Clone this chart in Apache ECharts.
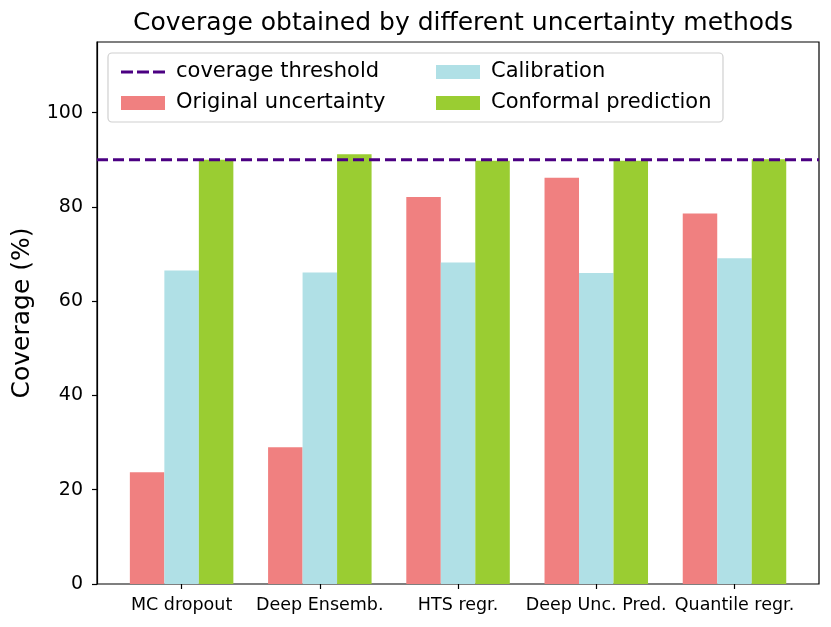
<!DOCTYPE html>
<html>
<head>
<meta charset="utf-8">
<script src="https://cdn.jsdelivr.net/npm/echarts@6/dist/echarts.min.js"></script>
<style>
  html, body { margin: 0; padding: 0; background: #fff; }
  #chart { width: 831px; height: 627px; }
</style>
</head>
<body>
<div id="chart"></div>
<script>
  // values
  let methods = ['MC dropout', 'Deep Ensemb.', 'HTS regr.', 'Deep Unc. Pred.', 'Quantile regr.']
  let original = [23.7, 29.0, 82.1, 86.2, 78.6]
  let calibration = [66.5, 66.1, 68.2, 66.0, 69.1]
  let conformal = [90.0, 91.2, 89.8, 89.8, 90.1]
  let threshold = 90
  let yTicks = [0, 20, 40, 60, 80, 100]

  let font = 'DejaVu Sans'
  let chart = echarts.init(document.getElementById('chart'), null, { renderer: 'canvas' })

  let barSeries = (name, data, color) => {
    return {
      name: name,
      type: 'bar',
      xAxisIndex: 1,
      yAxisIndex: 1,
      data: data,
      barWidth: 34.5,
      barGap: '0%',
      itemStyle: { color: color },
      z: 2
    }
  }

  // dashed handle for the threshold entry of the legend
  let dashIcon = 'path://M0,0h12v3h-12z M16,0h12v3h-12z M32,0h12v3h-12z'

  let legendText = { fontFamily: font, fontSize: 21, color: '#000', lineHeight: 22, padding: [0, 0, 0, 6] }

  let option = {
    animation: false,
    backgroundColor: '#fff',
    title: {
      text: 'Coverage obtained by different uncertainty methods',
      left: 458,
      textAlign: 'center',
      top: 6,
      textStyle: { fontFamily: font, fontSize: 25, fontWeight: 'normal', color: '#000' }
    },
    grid: [
      // outer frame with the y axis
      { left: 97, right: 12, top: 42, bottom: 43, show: true, borderColor: '#000', borderWidth: 1.2, backgroundColor: 'transparent' },
      // inner grid holding the category bands
      { left: 112.5, right: 27.4, top: 42, bottom: 43 }
    ],
    xAxis: [
      { gridIndex: 0, type: 'value', min: 0, max: 1, show: false },
      {
        gridIndex: 1,
        type: 'category',
        data: methods,
        axisLine: { show: false },
        axisTick: { show: true, alignWithLabel: true, length: 5, lineStyle: { color: '#000', width: 1.2 } },
        axisLabel: { interval: 0, fontFamily: font, fontSize: 17.5, color: '#000', margin: 12 }
      }
    ],
    yAxis: [
      {
        gridIndex: 0,
        type: 'value',
        min: 0,
        max: 115,
        name: 'Coverage (%)',
        nameLocation: 'middle',
        nameGap: 62,
        nameTextStyle: { fontFamily: font, fontSize: 25, color: '#000' },
        splitLine: { show: false },
        axisLine: { show: true, lineStyle: { color: '#000', width: 1.2 } },
        axisTick: { show: true, length: 5, customValues: yTicks, lineStyle: { color: '#000', width: 1.2 } },
        axisLabel: { customValues: yTicks, fontFamily: font, fontSize: 19, color: '#000', margin: 14 }
      },
      { gridIndex: 1, type: 'value', min: 0, max: 115, show: false }
    ],
    legend: [
      {
        left: 116,
        top: 56,
        z: 10,
        orient: 'vertical',
        icon: 'rect',
        itemWidth: 44,
        itemHeight: 14,
        itemGap: 9,
        data: [
          { name: 'coverage threshold', icon: dashIcon, itemStyle: { color: '#4B0082' } },
          { name: 'Original uncertainty' }
        ],
        textStyle: legendText
      },
      {
        left: 431,
        top: 56,
        z: 10,
        orient: 'vertical',
        icon: 'rect',
        itemWidth: 44,
        itemHeight: 14,
        itemGap: 9,
        data: ['Calibration', 'Conformal prediction'],
        textStyle: legendText
      }
    ],
    graphic: [
      {
        type: 'rect',
        shape: { x: 108, y: 53, width: 615, height: 69, r: 4 },
        style: { fill: 'rgba(255,255,255,0.8)', stroke: '#d0d0d0', lineWidth: 1.2 },
        z: 1
      }
    ],
    series: [
      {
        name: 'coverage threshold',
        type: 'line',
        xAxisIndex: 0,
        yAxisIndex: 0,
        data: [[0, threshold], [1, threshold]],
        symbol: 'none',
        lineStyle: { color: '#4B0082', width: 3, type: [11, 5] },
        itemStyle: { color: '#4B0082' },
        z: 4
      },
      barSeries('Original uncertainty', original, '#F08080'),
      barSeries('Calibration', calibration, '#B0E0E6'),
      barSeries('Conformal prediction', conformal, '#9ACD32')
    ]
  }
  chart.setOption(option)
</script>
</body>
</html>
